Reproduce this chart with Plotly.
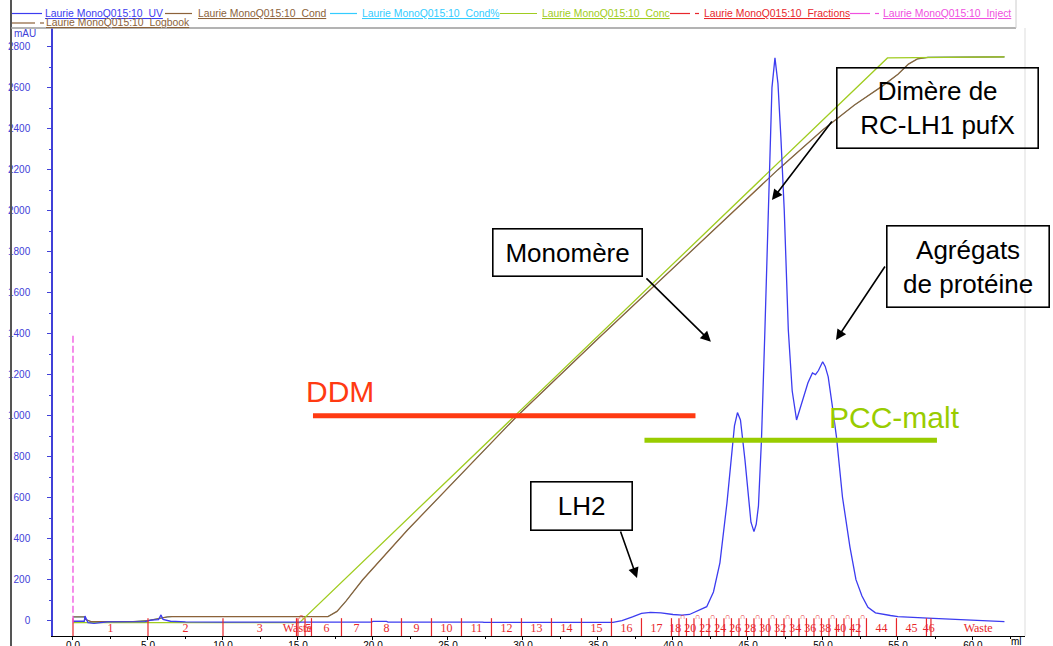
import plotly.graph_objects as go

# ---------------- chromatogram data (elution volume in ml) ----------------
uv_ml = [0.0, 0.75, 0.8, 0.9, 1.0, 1.4, 2.3, 4.8, 5.2, 5.7, 5.87, 6.0, 6.5, 7.5,
         10.0, 19.9, 20.0, 20.9, 21.0, 27.3, 27.4, 36.0, 36.6, 37.3, 37.9, 38.5,
         39.2, 40.0, 40.6, 41.1, 41.6, 42.25, 42.7, 43.13, 43.6, 43.9, 44.1, 44.3,
         44.5, 44.8, 45.02, 45.2, 45.4, 45.55, 45.7, 45.9, 46.13, 46.3, 46.45,
         46.6, 46.8, 47.0, 47.2, 47.42, 47.69, 47.95, 48.24, 48.5, 48.7, 49.0,
         49.3, 49.5, 49.7, 49.98, 50.15, 50.35, 50.6, 50.9, 51.3, 51.8, 52.2,
         52.6, 53.0, 53.5, 54.5, 55.0, 57.0, 60.0, 62.1]
uv_mau = [-3, -3, 22, 8, -10, -13, -6, -5, 2, 5, 28, 6, -3, -6,
          -7, -7, -4, -4, -7, -7, -9, -9, 0, 18, 35, 40,
          38, 30, 27, 30, 45, 68, 140, 282, 574, 800, 950, 1015,
          979, 784, 605, 480, 434, 470, 560, 881, 1418, 1850, 2250,
          2600, 2745, 2620, 2350, 2000, 1418, 1120, 979, 1040, 1091, 1160,
          1208, 1200, 1220, 1263, 1240, 1189, 1060, 896, 603, 359, 200,
          120, 65, 38, 25, 20, 12, 0, -5]

cond_ml = [0.0, 0.8, 0.85, 1.2, 4.0, 5.0, 6.3, 6.6, 17.0, 17.6, 18.2, 19.3,
           22.3, 29.5, 35.0, 40.0, 47.0, 50.0, 52.1, 54.0, 55.0, 55.7, 56.3,
           57.0, 62.1]
cond_mau = [18, 18, 5, -5, -5, 0, 18, 20, 20, 45, 95, 198,
            442, 990, 1375, 1720, 2200, 2395, 2515, 2610, 2665, 2715, 2740,
            2748, 2750]

conc_ml = [0.0, 15.1, 54.3, 62.1]
conc_mau = [-10, -10, 2745, 2750]

# detergent ranges drawn as bars across the gradient
ddm_range = [16.0, 41.5]
ddm_level = 1000
pcc_range = [38.1, 57.6]
pcc_level = 880

# sample injection mark
inject_ml = 0.0
inject_span = [-10, 1400]

# fraction collector: boundaries (ml) and fraction names
frac_edges = [0.0, 5.0, 10.0, 14.9, 15.0, 15.47, 15.9, 17.9, 19.9, 21.9, 23.9,
              25.9, 27.9, 29.9, 31.9, 33.9, 35.9, 37.9, 39.9, 40.4, 40.9, 41.4,
              41.9, 42.4, 42.9, 43.4, 43.9, 44.4, 44.9, 45.4, 45.9, 46.4, 46.9,
              47.4, 47.9, 48.4, 48.9, 49.4, 49.9, 50.4, 50.9, 51.4, 51.9, 52.4,
              52.9, 54.9, 56.9, 57.2]
run_end = 63.5
frac_names = ["1", "2", "3", "Waste"] + [str(n) for n in range(4, 47)] + ["Waste"]

curve_names = ["Laurie MonoQ015:10_UV", "Laurie MonoQ015:10_Cond",
               "Laurie MonoQ015:10_Cond%", "Laurie MonoQ015:10_Conc",
               "Laurie MonoQ015:10_Fractions", "Laurie MonoQ015:10_Inject",
               "Laurie MonoQ015:10_Logbook"]

# ---------------- colours ----------------
UV_C = "#3C3CF0"
AX_BLUE = "#4040D8"
COND_C = "#8C6239"
CONDP_C = "#33CCFF"
CONC_C = "#A0CC20"
FRAC_C = "#E8262B"
INJ_C = "#F050E0"
DDM_C = "#FF3A12"
PCC_C = "#99CC00"

W, H = 1053, 646
ML, MR, MT, MB = 53, 28, 28, 10
PW, PH = W - ML - MR, H - MT - MB


def px_x(px):
    return (px - ML) / PW


def px_y(py):
    return (H - MB - py) / PH


fig = go.Figure()

fig.add_trace(go.Scatter(x=cond_ml, y=cond_mau, mode="lines", name=curve_names[2],
                         line=dict(color=CONDP_C, width=1)))
fig.add_trace(go.Scatter(x=cond_ml, y=cond_mau, mode="lines", name=curve_names[1],
                         line=dict(color=COND_C, width=1.3)))
fig.add_trace(go.Scatter(x=conc_ml, y=conc_mau, mode="lines", name=curve_names[3],
                         line=dict(color=CONC_C, width=1.3)))
fig.add_trace(go.Scatter(x=uv_ml, y=uv_mau, mode="lines", name=curve_names[0],
                         line=dict(color=UV_C, width=1.3)))

# fraction ticks
fx, fy = [], []
for e in frac_edges:
    fx += [e, e, None]
    fy += [-75, 12, None]
fig.add_trace(go.Scatter(x=fx, y=fy, mode="lines", name=curve_names[4],
                         line=dict(color=FRAC_C, width=1.2)))

# fraction labels; in runs of narrow fractions every other one gets an arc mark
bounds = frac_edges + [run_end]
lab_x, lab_t, arc_x = [], [], []
skip_next = False
prev_narrow = False
for i, name in enumerate(frac_names):
    a, b = bounds[i], bounds[i + 1]
    mid = (a + b) / 2
    narrow = (b - a) < 0.6
    if narrow and prev_narrow and not skip_next:
        arc_x.append(mid)
        skip_next = True
    else:
        lab_x.append(mid)
        lab_t.append(name)
        skip_next = False
    prev_narrow = narrow
fig.add_trace(go.Scatter(x=lab_x, y=[-39] * len(lab_x), mode="text", text=lab_t,
                         textfont=dict(family="Liberation Serif", size=12, color=FRAC_C),
                         hoverinfo="skip"))
fig.add_trace(go.Scatter(x=arc_x, y=[20] * len(arc_x), mode="text", text=["∩"] * len(arc_x),
                         textfont=dict(family="Liberation Serif", size=8, color=FRAC_C),
                         hoverinfo="skip"))

# injection
fig.add_trace(go.Scatter(x=[inject_ml, inject_ml], y=inject_span, mode="lines",
                         name=curve_names[5],
                         line=dict(color=INJ_C, width=1.3, dash="7px,3px")))

# detergent bars
fig.add_trace(go.Scatter(x=ddm_range, y=[ddm_level] * 2, mode="lines",
                         line=dict(color=DDM_C, width=5)))
fig.add_trace(go.Scatter(x=pcc_range, y=[pcc_level] * 2, mode="lines",
                         line=dict(color=PCC_C, width=5)))

# ---------------- header key (two rows above the plot) ----------------
key_colors = [UV_C, COND_C, CONDP_C, CONC_C, FRAC_C, INJ_C, COND_C]
key_text_x = [43, 196, 360, 540, 702, 881, 44]
key_line = [(12, 42), (165, 192), (330, 357), (500, 537), (670, 690), (850, 870), (12, 35)]
key_dashed = [False, False, False, False, True, True, True]
key_row_y = [13.5, 13.5, 13.5, 13.5, 13.5, 13.5, 23]

anns = []
shapes = []
for name, col, tx, (l0, l1), dashed, ry in zip(curve_names, key_colors, key_text_x,
                                               key_line, key_dashed, key_row_y):
    anns.append(dict(x=px_x(tx), y=px_y(ry), xref="paper", yref="paper",
                     text=f"<span style='text-decoration:underline'>{name}</span>",
                     showarrow=False, xanchor="left", yanchor="middle",
                     font=dict(family="Liberation Sans", size=10.4, color=col)))
    shapes.append(dict(type="line", xref="paper", yref="paper", x0=px_x(l0), x1=px_x(l1),
                       y0=px_y(ry), y1=px_y(ry), line=dict(color=col, width=1.2)))
    if dashed:
        shapes.append(dict(type="line", xref="paper", yref="paper",
                           x0=px_x(l1 + 5), x1=px_x(l1 + 9), y0=px_y(ry), y1=px_y(ry),
                           line=dict(color=col, width=1.2)))

# ---------------- peak call-outs ----------------
boxes = [
    ("Dimère de<br>RC-LH1 pufX", 57.63, 2501, 203, 82),
    ("Monomère", 32.97, 1796, 151, 49),
    ("Agrégats<br>de protéine", 59.67, 1728, 164, 83),
    ("LH2", 33.9, 559, 103, 50),
]
for txt, bx, by, bw, bh in boxes:
    anns.append(dict(x=bx, y=by, xref="x", yref="y", text=txt, showarrow=False,
                     width=bw - 3, height=bh - 3, borderpad=0, borderwidth=1.6,
                     bordercolor="black", bgcolor="rgba(0,0,0,0)",
                     font=dict(family="Liberation Sans", size=26, color="black"),
                     xanchor="center", yanchor="middle", align="center", valign="middle"))

arrows = [
    ((50.67, 2442), (46.6, 2052)),
    ((38.13, 1677), (42.53, 1360)),
    ((54.2, 1735), (50.87, 1369)),
    ((36.47, 442), (37.6, 208)),
]
for (tx, ty), (hx, hy) in arrows:
    anns.append(dict(x=hx, y=hy, ax=tx, ay=ty, xref="x", yref="y", axref="x", ayref="y",
                     text="", showarrow=True, arrowhead=2, arrowsize=1.3, arrowwidth=1.6,
                     arrowcolor="black", standoff=0, startstandoff=0))

anns.append(dict(x=17.8, y=1116, xref="x", yref="y", text="DDM", showarrow=False,
                 font=dict(family="Liberation Sans", size=30, color=DDM_C)))
anns.append(dict(x=54.8, y=989, xref="x", yref="y", text="PCC-malt", showarrow=False,
                 font=dict(family="Liberation Sans", size=30, color=PCC_C)))
anns.append(dict(x=px_x(12), y=px_y(33), xref="paper", yref="paper", text="mAU",
                 showarrow=False, xanchor="left", yanchor="middle",
                 font=dict(size=10, color=AX_BLUE)))
anns.append(dict(x=px_x(1016), y=px_y(641), xref="paper", yref="paper", text="ml",
                 showarrow=False, xanchor="center", yanchor="middle",
                 font=dict(size=10, color="black")))

# frame lines around the header and plot
shapes += [
    dict(type="line", xref="paper", yref="paper", x0=px_x(11), x1=px_x(11),
         y0=px_y(H), y1=px_y(0), line=dict(color="#555555", width=2)),
    dict(type="line", xref="paper", yref="paper", x0=px_x(11), x1=px_x(1016),
         y0=px_y(28), y1=px_y(28), line=dict(color="#9a9a9a", width=1.5)),
    dict(type="line", xref="paper", yref="paper", x0=px_x(1016), x1=px_x(1016),
         y0=px_y(0), y1=px_y(28), line=dict(color="#cccccc", width=1)),
    dict(type="line", xref="paper", yref="paper", x0=1, x1=1, y0=0, y1=1,
         line=dict(color="#dddddd", width=1)),
]

fig.update_layout(
    width=W, height=H,
    margin=dict(l=ML, r=MR, t=MT, b=MB, autoexpand=False),
    paper_bgcolor="white", plot_bgcolor="white",
    font=dict(family="Liberation Sans, Arial, sans-serif", size=10, color="black"),
    showlegend=False,
    annotations=anns,
    shapes=shapes,
    xaxis=dict(range=[-1.333, 63.47], showline=True, linecolor="black", linewidth=1,
               ticks="outside", ticklen=3, tickcolor="black", tick0=0, dtick=5,
               tickformat=".1f", tickfont=dict(size=10, color="black"),
               ticklabelstandoff=-3,
               minor=dict(dtick=2.5, ticks="outside", ticklen=2, tickcolor="black"),
               showgrid=False, zeroline=False, automargin=False),
    yaxis=dict(range=[-75, 2891], showline=True, linecolor=AX_BLUE, linewidth=1.5,
               ticks="outside", ticklen=4, tickcolor=AX_BLUE, tick0=0, dtick=200,
               tickfont=dict(size=10, color=AX_BLUE), ticklabelstandoff=15,
               minor=dict(dtick=100, ticks="outside", ticklen=2, tickcolor=AX_BLUE),
               showgrid=False, zeroline=False, automargin=False),
)

fig.write_html("out.html")
